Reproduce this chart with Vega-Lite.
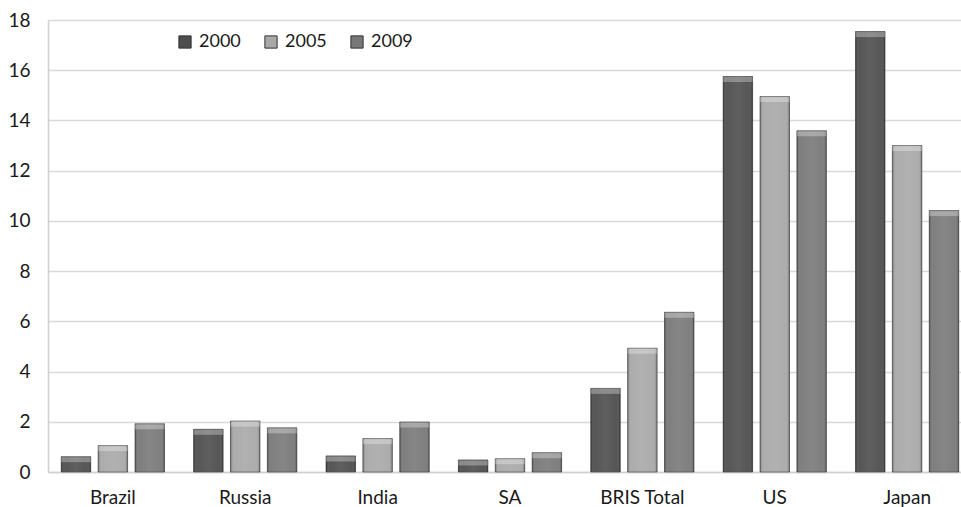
{
  "$schema": "https://vega.github.io/schema/vega-lite/v6.json",
  "width": 913,
  "height": 452,
  "autosize": {"type": "none"},
  "padding": {"left": 48, "top": 20, "right": 0, "bottom": 35},
  "background": "white",
  "config": {
    "font": "Lato",
    "view": {"stroke": null},
    "axis": {"labelFont": "Lato", "labelFontSize": 19, "labelColor": "#1a1a1a"}
  },
  "data": {
    "values": [
      {"country": "Brazil", "year": "2000", "value": 0.61},
      {"country": "Brazil", "year": "2005", "value": 1.05},
      {"country": "Brazil", "year": "2009", "value": 1.92},
      {"country": "Russia", "year": "2000", "value": 1.7},
      {"country": "Russia", "year": "2005", "value": 2.03},
      {"country": "Russia", "year": "2009", "value": 1.76},
      {"country": "India", "year": "2000", "value": 0.64},
      {"country": "India", "year": "2005", "value": 1.33},
      {"country": "India", "year": "2009", "value": 1.99},
      {"country": "SA", "year": "2000", "value": 0.48},
      {"country": "SA", "year": "2005", "value": 0.53},
      {"country": "SA", "year": "2009", "value": 0.77},
      {"country": "BRIS Total", "year": "2000", "value": 3.33},
      {"country": "BRIS Total", "year": "2005", "value": 4.93},
      {"country": "BRIS Total", "year": "2009", "value": 6.36},
      {"country": "US", "year": "2000", "value": 15.75},
      {"country": "US", "year": "2005", "value": 14.95},
      {"country": "US", "year": "2009", "value": 13.59},
      {"country": "Japan", "year": "2000", "value": 17.54},
      {"country": "Japan", "year": "2005", "value": 13.0},
      {"country": "Japan", "year": "2009", "value": 10.41}
    ]
  },
  "encoding": {
    "x": {
      "field": "country",
      "type": "nominal",
      "sort": null,
      "scale": {"range": [0, 924], "paddingInner": 0.22, "paddingOuter": 0.1},
      "axis": {
        "title": null,
        "labelAngle": 0,
        "domain": true,
        "domainColor": "#d0d0d0",
        "domainWidth": 1.5,
        "ticks": false,
        "labelPadding": 16
      }
    },
    "xOffset": {"field": "year", "type": "nominal", "scale": {"paddingInner": 0.2}},
    "y": {
      "field": "value",
      "type": "quantitative",
      "scale": {"domain": [0, 18], "nice": false},
      "axis": {
        "title": null,
        "values": [0, 2, 4, 6, 8, 10, 12, 14, 16, 18],
        "grid": true,
        "gridColor": "#d9d9d9",
        "gridWidth": 1.5,
        "domain": true,
        "domainColor": "#d0d0d0",
        "domainWidth": 1.5,
        "ticks": false,
        "labelPadding": 18
      }
    }
  },
  "layer": [
    {
      "mark": {"type": "bar", "stroke": "#3a3a3a", "strokeWidth": 1, "strokeOpacity": 0.6},
      "encoding": {
        "color": {
          "field": "year",
          "type": "nominal",
          "scale": {"domain": ["2000", "2005", "2009"], "range": ["#4d4d4d", "#a8a8a8", "#787878"]},
          "legend": {
            "title": null,
            "orient": "none",
            "direction": "horizontal",
            "legendX": 128,
            "legendY": 13,
            "symbolType": "square",
            "symbolSize": 150,
            "symbolStrokeColor": "#333333",
            "symbolStrokeWidth": 1,
            "labelFontSize": 18,
            "labelFont": "Lato",
            "labelColor": "#1a1a1a",
            "labelOffset": 5,
            "columnPadding": 21
          }
        }
      }
    },
    {
      "mark": {
        "type": "bar",
        "fill": {
          "gradient": "linear",
          "x1": 0, "y1": 0, "x2": 1, "y2": 0,
          "stops": [
            {"offset": 0, "color": "rgba(0,0,0,0.35)"},
            {"offset": 0.12, "color": "rgba(255,255,255,0.05)"},
            {"offset": 0.5, "color": "rgba(255,255,255,0.1)"},
            {"offset": 0.88, "color": "rgba(255,255,255,0.05)"},
            {"offset": 1, "color": "rgba(0,0,0,0.35)"}
          ]
        }
      },
      "encoding": {}
    },
    {
      "mark": {"type": "tick", "orient": "horizontal", "thickness": 5, "color": "#ffffff", "opacity": 0.3, "yOffset": 3},
      "encoding": {}
    }
  ]
}
